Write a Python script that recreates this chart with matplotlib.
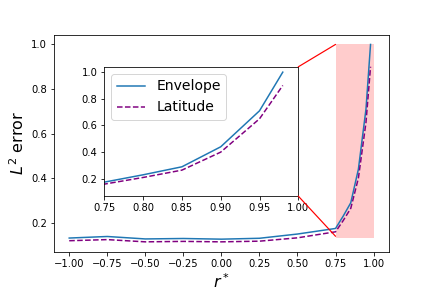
import matplotlib
matplotlib.use("Agg")
import matplotlib.pyplot as plt
from matplotlib.patches import Rectangle, ConnectionPatch

r_vals = [-1.0, -0.75, -0.5, -0.25, 0.0, 0.25, 0.5, 0.75, 0.8, 0.85, 0.9, 0.95, 0.98]
envelope = [0.132, 0.139, 0.128, 0.130, 0.127, 0.131, 0.150, 0.175, 0.23, 0.29, 0.44, 0.71, 1.0]
latitude = [0.120, 0.125, 0.115, 0.117, 0.115, 0.118, 0.133, 0.160, 0.21, 0.265, 0.40, 0.65, 0.90]

zoom_x = (0.75, 1.0)
zoom_y = (0.13, 1.0)

fig, ax = plt.subplots(figsize=(6, 4), dpi=72)
fig.subplots_adjust(left=0.125, right=0.9, bottom=0.126, top=0.88)
ax.plot(r_vals, envelope, color="C0", label="Envelope")
ax.plot(r_vals, latitude, "--", color="purple", label="Latitude")
ax.add_patch(Rectangle((zoom_x[0], zoom_y[0]), zoom_x[1] - zoom_x[0],
                       zoom_y[1] - zoom_y[0], color="red", alpha=0.2, lw=0))
ax.set_xlabel("$r^*$", fontsize=16)
ax.set_ylabel("$L^2$ error", fontsize=16)

# inset zoom on the steep part
ins = fig.add_axes([0.2415, 0.319, 0.449, 0.449])
ins.plot(r_vals, envelope, color="C0", label="Envelope")
ins.plot(r_vals, latitude, "--", color="purple", label="Latitude")
ins.set_xlim(*zoom_x)
ins.set_ylim(0.07, 1.04)
ins.legend(loc="upper left", fontsize=14)

for ya, yb in [(zoom_y[1], 1.0), (zoom_y[0] + 0.01, 0.0)]:
    con = ConnectionPatch(xyA=(zoom_x[0], ya), coordsA=ax.transData,
                          xyB=(1.0, yb), coordsB=ins.transAxes,
                          color="red", lw=1.2)
    fig.add_artist(con)

fig.savefig("out.png", dpi=72)
